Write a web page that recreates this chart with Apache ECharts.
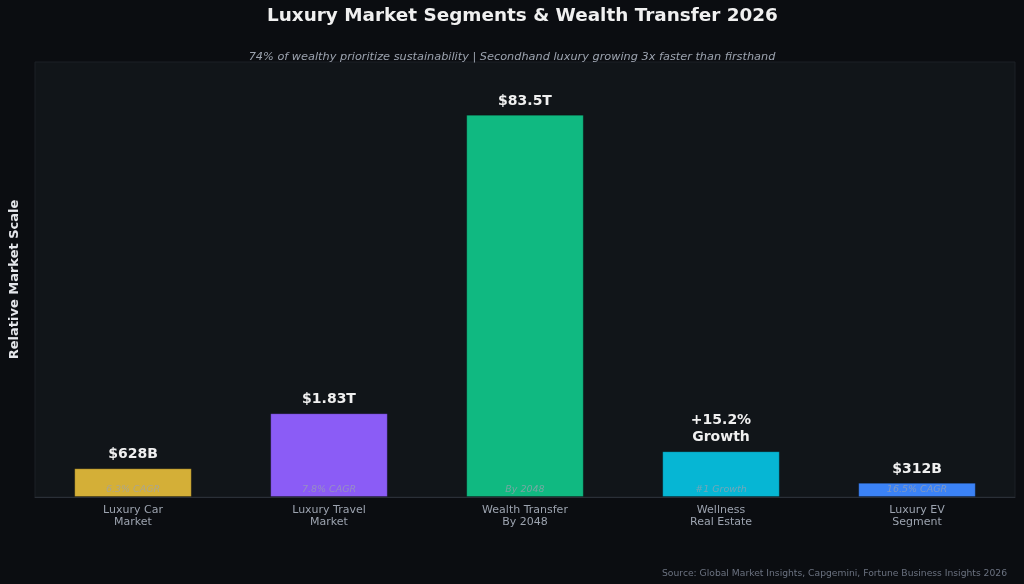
<!DOCTYPE html>
<html><head><meta charset="utf-8">
<script src="https://cdn.jsdelivr.net/npm/echarts@6/dist/echarts.min.js"></script>
<style>html,body{margin:0;padding:0;background:#0b0d11;}#c{width:1024px;height:584px;}</style>
</head><body><div id="c"></div>
<script>
const categories = ['Luxury Car\nMarket', 'Luxury Travel\nMarket', 'Wealth Transfer\nBy 2048', 'Wellness\nReal Estate', 'Luxury EV\nSegment'];
const values = [6.28, 18.3, 83.5, 10.0, 3.12];
const topLabels = ['$628B', '$1.83T', '$83.5T', '+15.2%\nGrowth', '$312B'];
const innerLabels = ['6.3% CAGR', '7.8% CAGR', 'By 2048', '#1 Growth', '16.5% CAGR'];
const colors = ['#d4af37', '#8b5cf6', '#10b981', '#06b6d4', '#3b82f6'];

const chart = echarts.init(document.getElementById('c'));
const font = 'DejaVu Sans';
chart.setOption({
  backgroundColor: '#0b0d11',
  animation: false,
  title: [
    {text: 'Luxury Market Segments & Wealth Transfer 2026', left: 262, top: 2,
     textStyle: {color: '#f0f0f0', fontSize: 18.4, fontWeight: 'bold', fontFamily: font}},
    {text: '74% of wealthy prioritize sustainability | Secondhand luxury growing 3x faster than firsthand',
     left: 'center', top: 47, textStyle: {color: '#9ca3af', fontSize: 11.3, fontStyle: 'italic', fontWeight: 'normal', fontFamily: font}},
    {text: 'Source: Global Market Insights, Capgemini, Fortune Business Insights 2026', right: 12, top: 564,
     textStyle: {color: '#6b7280', fontSize: 9.2, fontWeight: 'normal', fontFamily: font}}
  ],
  grid: {left: 29, right: 9, top: 62, bottom: 87, show: true, backgroundColor: '#111519', borderColor: '#1c2026', borderWidth: 1},
  xAxis: {
    type: 'category', data: categories,
    axisLine: {lineStyle: {color: '#2a2f37'}},
    axisTick: {alignWithLabel: true, length: 4, lineStyle: {color: '#9ca3af'}},
    axisLabel: {color: '#9ca3af', fontSize: 11, fontFamily: font, lineHeight: 12, margin: 7}
  },
  yAxis: {
    type: 'value', min: 0, max: 95,
    name: 'Relative Market Scale', nameLocation: 'middle', nameGap: 14,
    nameTextStyle: {color: '#e5e7eb', fontSize: 13, fontWeight: 'bold', fontFamily: font},
    axisLabel: {show: false}, axisTick: {show: false}, splitLine: {show: false},
    axisLine: {show: false}
  },
  series: [
    {
      type: 'bar', barWidth: '60%',
      data: values.map((v, i) => ({value: v, itemStyle: {color: colors[i], borderColor: 'rgba(0,0,0,0.25)', borderWidth: 1}})),
      label: {show: true, position: 'top', distance: 5, formatter: p => topLabels[p.dataIndex],
        color: '#f0f0f0', fontSize: 14, fontWeight: 'bold', fontFamily: font, lineHeight: 17}
    },
    {
      type: 'bar', barWidth: '60%', barGap: '-100%', silent: true,
      data: values,
      itemStyle: {color: 'rgba(0,0,0,0)'},
      label: {show: true, position: 'insideBottom', distance: 2, formatter: p => innerLabels[p.dataIndex],
        color: 'rgba(156,163,175,0.7)', fontSize: 9.5, fontStyle: 'italic', fontFamily: font}
    }
  ]
});
</script></body></html>
